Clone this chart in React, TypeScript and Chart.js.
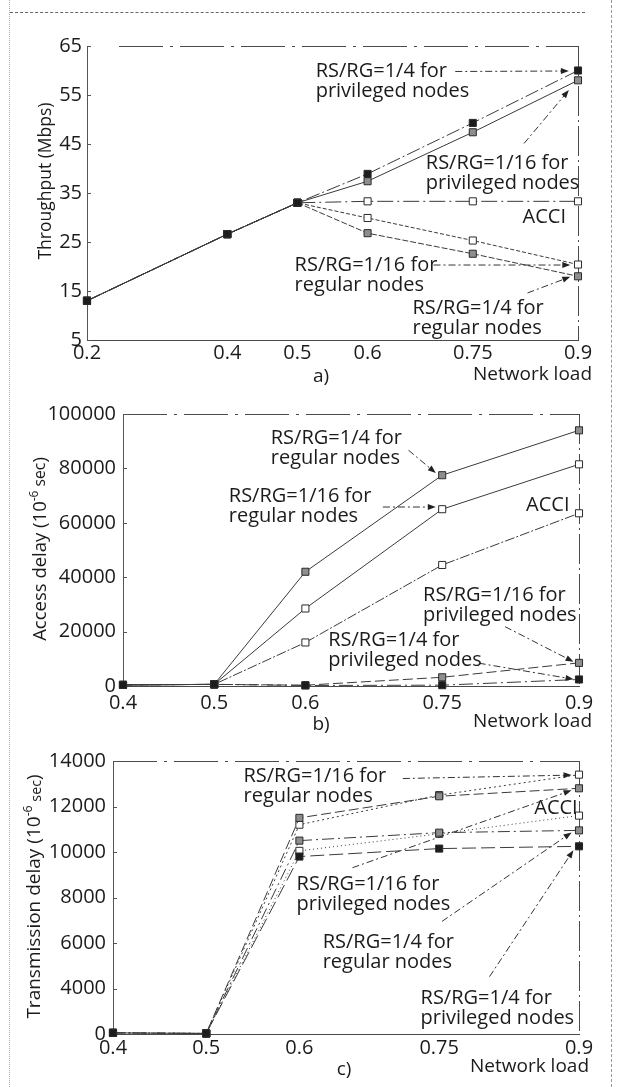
import React, { useEffect, useRef } from 'react';
import { Chart, registerables, LinearScale } from 'chart.js';

Chart.register(...registerables);

// ---------------- data ----------------
// a) Throughput
const loadA = [0.2, 0.4, 0.5, 0.6, 0.75, 0.9];
const xTicksA = [0.2, 0.4, 0.5, 0.6, 0.75, 0.9];
const yTicksA = [5, 15, 25, 35, 45, 55, 65];
const thrPriv4 = [13, 26.6, 33, 38.9, 49.3, 60];
const thrPriv16 = [13, 26.6, 33, 37.4, 47.4, 58];
const thrAcci = [13, 26.6, 33, 33.3, 33.3, 33.3];
const thrReg16 = [13, 26.6, 33, 29.9, 25.3, 20.4];
const thrReg4 = [13, 26.6, 33, 26.8, 22.6, 18];

// b) Access delay
const loadB = [0.4, 0.5, 0.6, 0.75, 0.9];
const xTicksB = [0.4, 0.5, 0.6, 0.75, 0.9];
const yTicksB = [0, 20000, 40000, 60000, 80000, 100000];
const accReg4 = [400, 600, 42000, 77500, 94000];
const accReg16 = [400, 600, 28500, 65000, 81500];
const accAcci = [400, 600, 16000, 44500, 63500];
const accPriv16 = [400, 600, 300, 3200, 8500];
const accPriv4 = [400, 600, 200, 300, 2400];

// c) Transmission delay
const loadC = [0.4, 0.5, 0.6, 0.75, 0.9];
const xTicksC = [0.4, 0.5, 0.6, 0.75, 0.9];
const yTicksC = [0, 4000, 6000, 8000, 10000, 12000, 14000];
const txReg16 = [100, 50, 11200, 12500, 13400];
const txPriv16 = [100, 50, 11500, 12450, 12800];
const txAcci = [100, 50, 10050, 10800, 11600];
const txReg4 = [100, 50, 10500, 10850, 10950];
const txPriv4 = [100, 50, 9800, 10150, 10250];

// annotations (anchor positions in data units)
const notesA = [
  { lines: ['RS/RG=1/4 for', 'privileged nodes'], at: [0.526, 59.8], from: [0.725, 59.8], to: [0.887, 59.9] },
  { lines: ['RS/RG=1/16 for', 'privileged nodes'], at: [0.683, 41.1], from: [0.823, 45.1], to: [0.887, 56] },
  { lines: ['ACCI'], at: [0.821, 30.1] },
  { lines: ['RS/RG=1/16 for', 'regular nodes'], at: [0.496, 20.3], from: [0.694, 20.3], to: [0.889, 20.3] },
  { lines: ['RS/RG=1/4 for', 'regular nodes'], at: [0.664, 11.5], from: [0.828, 14.6], to: [0.889, 17.9] },
];
const notesB = [
  { lines: ['RS/RG=1/4 for', 'regular nodes'], at: [0.562, 91000], from: [0.713, 86700], to: [0.743, 78300] },
  { lines: ['RS/RG=1/16 for', 'regular nodes'], at: [0.516, 69700], from: [0.685, 65800], to: [0.743, 65800] },
  { lines: ['ACCI'], at: [0.842, 66400] },
  { lines: ['RS/RG=1/16 for', 'privileged nodes'], at: [0.729, 33500], from: [0.819, 21800], to: [0.894, 8900] },
  { lines: ['RS/RG=1/4 for', 'privileged nodes'], at: [0.625, 16700], from: [0.79, 8400], to: [0.894, 2500] },
];
const notesC = [
  { lines: ['RS/RG=1/16 for', 'regular nodes'], at: [0.54, 13330], from: [0.711, 13230], to: [0.892, 13380] },
  { lines: ['ACCI'], at: [0.852, 11900] },
  { lines: ['RS/RG=1/16 for', 'privileged nodes'], at: [0.597, 8600], from: [0.657, 9310], to: [0.892, 12710] },
  { lines: ['RS/RG=1/4 for', 'regular nodes'], at: [0.625, 6030], from: [0.753, 6950], to: [0.892, 10860] },
  { lines: ['RS/RG=1/4 for', 'privileged nodes'], at: [0.73, 3180], from: [0.804, 4520], to: [0.894, 10080] },
];

// ---------------- styles ----------------
const FONT = '"Open Sans", "Noto Sans", sans-serif';
const TEXT = '#1b1b1b';
const LINE = '#3a3a3a';
const FILLS: Record<string, string> = { black: '#1c1c1c', gray: '#8e8e8e', white: '#ffffff' };

// y axis of panel c: the labelled "0" sits one step below 4000
const GAP_BASE = 2000;
const GAP_TOP = 4000;
class GapLinearScale extends LinearScale {
  static id = 'gaplinear';
  static defaults = LinearScale.defaults;
  getPixelForValue(value: number) {
    const t = value < GAP_TOP ? GAP_BASE + (value * (GAP_TOP - GAP_BASE)) / GAP_TOP : value;
    return super.getPixelForValue(t);
  }
  getValueForPixel(pixel: number) {
    const t = super.getValueForPixel(pixel) as number;
    return t < GAP_TOP ? ((t - GAP_BASE) * GAP_TOP) / (GAP_TOP - GAP_BASE) : t;
  }
}
Chart.register(GapLinearScale as any);

type Series = { data: number[]; marker: string; dash: number[]; radius?: number };

const panels = [
  {
    key: 'a', top: 0, height: 395,
    area: { left: 87, right: 578, top: 46, bottom: 340 },
    xs: loadA, xMin: 0.2, xMax: 0.9, xTicks: xTicksA,
    yType: 'linear', yMin: 5, yMax: 65, yTicks: yTicksA,
    xTickPad: 1, yTickPad: 5,
    series: [
      { data: thrPriv4, marker: 'black', dash: [14, 3, 2, 3] },
      { data: thrPriv16, marker: 'gray', dash: [] },
      { data: thrAcci, marker: 'white', dash: [16, 4, 2, 4] },
      { data: thrReg16, marker: 'white', dash: [4, 2] },
      { data: thrReg4, marker: 'gray', dash: [6, 2] },
    ] as Series[],
    notes: notesA,
    yTitle: [{ t: 'Throughput (Mbps)' }], yTitleSize: 17.5, yTitleX: 46, yTitleY: 181,
    caption: 'a)', captionX: 321, captionY: 377, xNameRight: 592, xNameY: 375, topGap: 32,
  },
  {
    key: 'b', top: 395, height: 340,
    area: { left: 123, right: 579, top: 19, bottom: 291 },
    xs: loadB, xMin: 0.4, xMax: 0.9, xTicks: xTicksB,
    yType: 'linear', yMin: 0, yMax: 100000, yTicks: yTicksB,
    xTickPad: 5, yTickPad: 7,
    series: [
      { data: accPriv4, marker: 'black', dash: [14, 4, 2, 4] },
      { data: accPriv16, marker: 'gray', dash: [10, 4] },
      { data: accReg4, marker: 'gray', dash: [] },
      { data: accReg16, marker: 'white', dash: [] },
      { data: accAcci, marker: 'white', dash: [10, 2, 2, 2] },
    ] as Series[],
    notes: notesB,
    yTitle: [{ t: 'Access delay (10' }, { t: '-6', s: 0.65, dy: -0.35 }, { t: ' sec', s: 0.85 }, { t: ')' }],
    yTitleSize: 18.5, yTitleX: 41, yTitleY: 154,
    caption: 'b)', captionX: 321, captionY: 330, xNameRight: 592, xNameY: 327, topGap: 0,
  },
  {
    key: 'c', top: 735, height: 352,
    area: { left: 113, right: 579, top: 26, bottom: 299 },
    xs: loadC, xMin: 0.4, xMax: 0.9, xTicks: xTicksC,
    yType: 'gaplinear', yMin: GAP_BASE, yMax: 14000, yTicks: yTicksC,
    xTickPad: 2, yTickPad: 7,
    series: [
      { data: txPriv4, marker: 'black', dash: [14, 5] },
      { data: txReg4, marker: 'gray', dash: [12, 4, 2, 4] },
      { data: txPriv16, marker: 'gray', dash: [10, 4] },
      { data: txReg16, marker: 'white', dash: [2, 3] },
      { data: txAcci, marker: 'white', dash: [1, 3] },
    ] as Series[],
    notes: notesC,
    yTitle: [{ t: 'Transmission delay (10' }, { t: '-6', s: 0.65, dy: -0.35 }, { t: ' sec', s: 0.75, dy: 0.12 }, { t: ')' }],
    yTitleSize: 19, yTitleX: 35, yTitleY: 161.5,
    caption: 'c)', captionX: 344, captionY: 335, xNameRight: 589, xNameY: 332, topGap: 0,
  },
];

function drawArrow(ctx: CanvasRenderingContext2D, x1: number, y1: number, x2: number, y2: number) {
  const ang = Math.atan2(y2 - y1, x2 - x1);
  const head = 8;
  ctx.save();
  ctx.strokeStyle = '#333';
  ctx.lineWidth = 1;
  ctx.setLineDash([7, 3, 2, 3]);
  ctx.beginPath();
  ctx.moveTo(x1, y1);
  ctx.lineTo(x2 - Math.cos(ang) * head * 0.8, y2 - Math.sin(ang) * head * 0.8);
  ctx.stroke();
  ctx.setLineDash([]);
  ctx.fillStyle = '#222';
  ctx.beginPath();
  ctx.moveTo(x2, y2);
  ctx.lineTo(x2 - head * Math.cos(ang) + 3 * Math.sin(ang), y2 - head * Math.sin(ang) - 3 * Math.cos(ang));
  ctx.lineTo(x2 - head * Math.cos(ang) - 3 * Math.sin(ang), y2 - head * Math.sin(ang) + 3 * Math.cos(ang));
  ctx.closePath();
  ctx.fill();
  ctx.restore();
}

function makeDecor(p: any) {
  return {
    id: 'decor_' + p.key,
    beforeDatasetsDraw(chart: any) {
      const { ctx, chartArea: a, scales } = chart;
      ctx.save();
      ctx.strokeStyle = '#4a4a4a';
      ctx.lineWidth = 1;
      ctx.setLineDash([44, 7, 3, 7]);
      ctx.beginPath();
      ctx.moveTo(a.left + p.topGap, a.top + 0.5);
      ctx.lineTo(a.right, a.top + 0.5);
      ctx.stroke();
      ctx.setLineDash([30, 4, 2, 4]);
      ctx.beginPath();
      ctx.moveTo(a.right + 0.5, a.top);
      ctx.lineTo(a.right + 0.5, a.bottom);
      ctx.stroke();
      ctx.setLineDash([]);
      ctx.strokeStyle = '#555';
      for (const t of scales.y.ticks) {
        const py = Math.round(scales.y.getPixelForValue(t.value)) + 0.5;
        ctx.beginPath();
        ctx.moveTo(a.left, py);
        ctx.lineTo(a.left + 4, py);
        ctx.stroke();
      }
      ctx.restore();
    },
    afterDraw(chart: any) {
      const { ctx, scales, chartArea: a } = chart;
      const sx = scales.x, sy = scales.y;
      ctx.save();
      ctx.fillStyle = TEXT;
      ctx.font = `20px ${FONT}`;
      ctx.textAlign = 'left';
      ctx.textBaseline = 'middle';
      for (const n of p.notes) {
        if (n.from) {
          drawArrow(ctx, sx.getPixelForValue(n.from[0]), sy.getPixelForValue(n.from[1]), sx.getPixelForValue(n.to[0]), sy.getPixelForValue(n.to[1]));
        }
        const x0 = sx.getPixelForValue(n.at[0]);
        const y0 = sy.getPixelForValue(n.at[1]);
        n.lines.forEach((ln: string, i: number) => ctx.fillText(ln, x0, y0 + i * 20));
      }
      // y title (rotated, with superscript)
      ctx.save();
      ctx.translate(p.yTitleX, p.yTitleY);
      ctx.rotate(-Math.PI / 2);
      const base = p.yTitleSize;
      let total = 0;
      const widths = p.yTitle.map((s: any) => {
        ctx.font = `${base * (s.s || 1)}px ${FONT}`;
        const w = ctx.measureText(s.t).width;
        total += w;
        return w;
      });
      let x = -total / 2;
      p.yTitle.forEach((s: any, i: number) => {
        ctx.font = `${base * (s.s || 1)}px ${FONT}`;
        ctx.fillText(s.t, x, (s.dy || 0) * base);
        x += widths[i];
      });
      ctx.restore();
      // captions
      ctx.font = `19px ${FONT}`;
      ctx.textAlign = 'center';
      ctx.fillText(p.caption, p.captionX, p.captionY);
      ctx.textAlign = 'right';
      ctx.fillText('Network load', p.xNameRight, p.xNameY);
      ctx.restore();
    },
  };
}

function buildConfig(p: any): any {
  const datasets = p.series.map((s: Series) => ({
    data: p.xs.map((x: number, i: number) => ({ x, y: s.data[i] })),
    borderColor: LINE,
    borderWidth: 1,
    borderDash: s.dash,
    pointStyle: 'rect',
    pointRadius: 5,
    pointBorderWidth: 1,
    pointBackgroundColor: FILLS[s.marker],
    pointBorderColor: '#2a2a2a',
    fill: false,
    tension: 0,
    clip: false,
  }));
  const tickFont = { family: FONT, size: 20, lineHeight: 1.2 };
  return {
    type: 'line',
    data: { datasets },
    options: {
      responsive: false,
      animation: false,
      devicePixelRatio: 1,
      layout: { autoPadding: false, padding: { top: p.area.top, right: 617 - p.area.right, left: 0, bottom: 0 } },
      plugins: { legend: { display: false }, tooltip: { enabled: false } },
      scales: {
        x: {
          type: 'linear',
          min: p.xMin,
          max: p.xMax,
          afterBuildTicks: (s: any) => { s.ticks = p.xTicks.map((v: number) => ({ value: v })); },
          afterFit: (s: any) => { s.height = p.height - p.area.bottom; },
          grid: { display: false, drawTicks: false },
          border: { display: true, color: '#4a4a4a', width: 1, dash: [40, 6, 3, 6] },
          ticks: { autoSkip: false, maxRotation: 0, padding: p.xTickPad, color: TEXT, font: tickFont, callback: (v: any) => String(v) },
        },
        y: {
          type: p.yType,
          min: p.yMin,
          max: p.yMax,
          afterBuildTicks: (s: any) => { s.ticks = p.yTicks.map((v: number) => ({ value: v })); },
          afterFit: (s: any) => { s.width = p.area.left; },
          grid: { display: false, drawTicks: false },
          border: { display: true, color: '#555', width: 1, dash: [2, 2] },
          ticks: { autoSkip: false, padding: p.yTickPad, color: TEXT, font: tickFont, callback: (v: any) => String(v) },
        },
      },
    },
    plugins: [makeDecor(p)],
  };
}

function Panel({ p }: { p: any }) {
  const ref = useRef<HTMLCanvasElement>(null);
  useEffect(() => {
    const chart = new Chart(ref.current as HTMLCanvasElement, buildConfig(p));
    return () => chart.destroy();
  }, [p]);
  return (
    <canvas
      ref={ref}
      width={617}
      height={p.height}
      style={{ position: 'absolute', left: 0, top: p.top, width: 617, height: p.height, display: 'block' }}
    />
  );
}

export default function App() {
  return (
    <div style={{ position: 'absolute', left: 0, top: 0, width: 617, height: 1087, background: '#fff', overflow: 'hidden' }}>
      <div style={{ position: 'absolute', left: 9, top: 0, height: 1087, borderLeft: '1px dotted #aaa' }} />
      <div style={{ position: 'absolute', left: 611, top: 0, height: 1087, borderLeft: '1px dashed #999' }} />
      <div style={{ position: 'absolute', left: 10, top: 12, width: 575, borderTop: '1px dashed #666' }} />
      {panels.map((p) => (
        <Panel key={p.key} p={p} />
      ))}
    </div>
  );
}
